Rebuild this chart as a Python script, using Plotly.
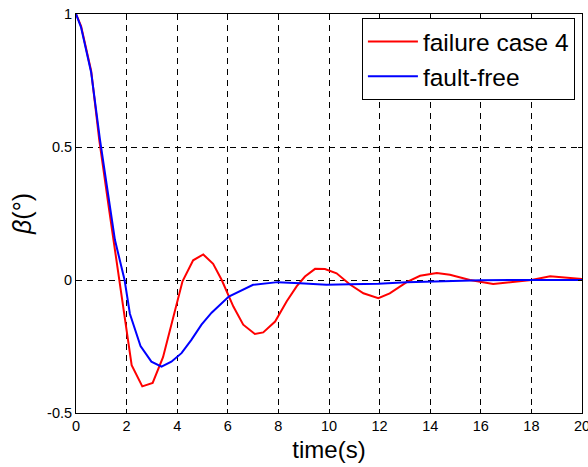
import plotly.graph_objects as go

# failure case 4 (red)
t_fail = [0, 0.2, 0.6, 0.92, 1.3, 1.71, 2.2, 2.62, 3.03, 3.44, 3.83, 4.21, 4.63, 5.03, 5.42,
          5.76, 6.22, 6.61, 7.07, 7.4, 7.87, 8.33, 8.72, 9.05, 9.45, 9.84, 10.3, 10.83,
          11.36, 11.95, 12.4, 13.07, 13.6, 14.26, 14.78, 15.18, 15.57, 16.49, 17.28, 18.0,
          18.74, 19.4, 20.0]
beta_fail = [1.0, 0.955, 0.786, 0.526, 0.27, 0.0, -0.32, -0.40, -0.387, -0.29, -0.145, -0.005,
             0.074, 0.096, 0.061, 0.0, -0.10, -0.168, -0.203, -0.197, -0.156, -0.08, -0.024,
             0.013, 0.042, 0.041, 0.025, -0.017, -0.05, -0.068, -0.05, -0.008, 0.016, 0.026,
             0.02, 0.009, 0.0, -0.015, -0.008, 0.0, 0.014, 0.01, 0.004]

# fault-free (blue)
t_free = [0, 0.2, 0.6, 0.95, 1.54, 1.92, 2.13, 2.55, 2.98, 3.38, 3.77, 4.17, 4.56, 4.96, 5.36,
          6.04, 7.0, 7.97, 8.85, 9.9, 10.83, 11.95, 13.07, 14.0, 15.2, 16.0, 18.0, 20.0]
beta_free = [1.0, 0.95, 0.78, 0.526, 0.15, 0.0, -0.127, -0.248, -0.307, -0.326, -0.307, -0.275,
             -0.225, -0.168, -0.123, -0.062, -0.018, -0.008, -0.012, -0.018, -0.016, -0.014,
             -0.008, -0.005, -0.003, -0.001, 0.0, 0.0]

x_ticks = [0, 2, 4, 6, 8, 10, 12, 14, 16, 18, 20]
y_ticks = [-0.5, 0, 0.5, 1]
y_tick_labels = ["-0.5", "0", "0.5", "1"]

FONT = "Arial, Liberation Sans"

fig = go.Figure()
fig.add_trace(go.Scatter(x=t_fail, y=beta_fail, mode="lines", name="failure case 4",
                         line=dict(color="#ff0000", width=2)))
fig.add_trace(go.Scatter(x=t_free, y=beta_free, mode="lines", name="fault-free",
                         line=dict(color="#0000ff", width=2)))

axis_common = dict(
    showline=True, linecolor="black", linewidth=1, mirror="ticks",
    ticks="inside", ticklen=4, tickcolor="black",
    showgrid=True, gridcolor="black", gridwidth=1, griddash="6px,5px",
    zeroline=False, automargin=False, ticklabeloverflow="allow",
    tickfont=dict(family=FONT, size=14.5, color="black"),
)

fig.update_xaxes(range=[0, 20], tickvals=x_ticks,
                 title=dict(text="time(s)", font=dict(family=FONT, size=24, color="black"),
                            standoff=7),
                 **axis_common)
fig.update_yaxes(range=[-0.5, 1], tickvals=y_ticks, ticktext=y_tick_labels,
                 title=dict(text="<i>β</i>(°)", font=dict(family=FONT, size=25, color="black"),
                            standoff=8),
                 **axis_common)

fig.update_layout(
    width=588, height=467,
    margin=dict(l=76, r=6, t=14, b=54),
    paper_bgcolor="white", plot_bgcolor="white",
    showlegend=True,
    legend=dict(x=0.986, y=0.99, xanchor="right", yanchor="top",
                bgcolor="white", bordercolor="black", borderwidth=1,
                font=dict(family=FONT, size=24.5, color="black"),
                itemwidth=50, tracegroupgap=0),
)

# remove the default page margin so the figure fills the window exactly
fig.write_html(
    "out.html",
    config={"displayModeBar": False},
    post_script="document.body.style.margin='0';document.documentElement.style.overflow='hidden';",
)
